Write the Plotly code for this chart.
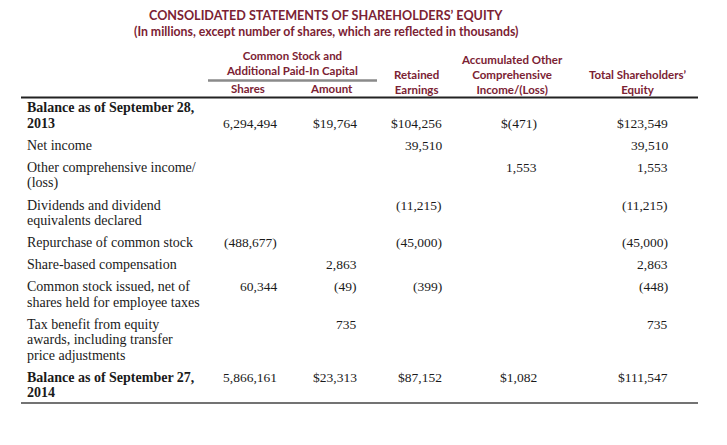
import plotly.graph_objects as go

W, H = 727, 445

title = "CONSOLIDATED STATEMENTS OF SHAREHOLDERS’ EQUITY"
subtitle = "(In millions, except number of shares, which are reflected in thousands)"

group_header = ["Common Stock and", "Additional Paid-In Capital"]
col_headers = [["Shares"], ["Amount"], ["Retained", "Earnings"],
               ["Accumulated Other", "Comprehensive", "Income/(Loss)"],
               ["Total Shareholders’", "Equity"]]

row_labels = [
    ["Balance as of September 28,", "2013"],
    ["Net income"],
    ["Other comprehensive income/", "(loss)"],
    ["Dividends and dividend", "equivalents declared"],
    ["Repurchase of common stock"],
    ["Share-based compensation"],
    ["Common stock issued, net of", "shares held for employee taxes"],
    ["Tax benefit from equity", "awards, including transfer", "price adjustments"],
    ["Balance as of September 27,", "2014"],
]
balance_rows = [True, False, False, False, False, False, False, False, True]
value_line = [1, 0, 0, 0, 0, 0, 0, 0, 0]

shares = [6294494, None, None, None, -488677, None, 60344, None, 5866161]
amount = [19764, None, None, None, None, 2863, -49, 735, 23313]
retained = [104256, 39510, None, -11215, -45000, None, -399, None, 87152]
aoci = [-471, None, 1553, None, None, None, None, None, 1082]
total = [123549, 39510, 1553, -11215, -45000, 2863, -448, 735, 111547]

# ---------- layout constants ----------
MAROON = "#7b2233"
HEAD_FONT = "Lato, sans-serif"
BODY_FONT = "Liberation Serif, Times New Roman, serif"
col_right = [279, 359, 444, 539, 670]
col_center = [248, 331, 416, 512, 637]
label_x = 25
first_y = 108
line_h = 15.5
row_gap = 22


def px(x):
    return x / W


def py(y):
    return 1 - y / H


def fmt(v, dollar, is_shares):
    if v is None:
        return ""
    s = f"{abs(v):,}"
    if v < 0:
        s = f"({s})"
    if dollar and not is_shares:
        s = "$" + s
    return s


ann = []
shapes = []


def add_text(x, y, text, size, font, color, bold=False, anchor="left"):
    if bold:
        text = f"<b>{text}</b>"
    ann.append(dict(x=px(x), y=py(y), xref="paper", yref="paper", text=text,
                    showarrow=False, xanchor=anchor, yanchor="middle", align="center",
                    font=dict(size=size, family=font, color=color)))


def hline(x0, x1, y, color, width):
    shapes.append(dict(type="line", xref="paper", yref="paper", x0=px(x0), x1=px(x1),
                       y0=py(y), y1=py(y), line=dict(color=color, width=width)))


HS = 11.5
HLS = HS * 1.3  # plotly line spacing for <br>
# title
add_text(326, 16, title, 12.6, HEAD_FONT, MAROON, bold=True, anchor="center")
add_text(326, 31, subtitle, 12.3, HEAD_FONT, MAROON, bold=True, anchor="center")

# headers
head_bottom = 89
add_text(292, 70.5 - HLS / 2, "<br>".join(group_header), HS, HEAD_FONT, MAROON,
         bold=True, anchor="center")
hline(208, 377, 80.5, "#8a8a8a", 2.5)
for c, lines in enumerate(col_headers):
    n = len(lines)
    yc = head_bottom - (n - 1) * HLS / 2
    add_text(col_center[c], yc, "<br>".join(lines), HS, HEAD_FONT, MAROON,
             bold=True, anchor="center")
hline(21, 698, 97.5, "#222222", 2)

# body
columns = [shares, amount, retained, aoci, total]
y = first_y
for r, lines in enumerate(row_labels):
    bold = balance_rows[r]
    for i, line in enumerate(lines):
        add_text(label_x, y + i * line_h, line, 14, BODY_FONT, "#1a1a1a", bold=bold)
    vy = y + value_line[r] * line_h
    for c, col in enumerate(columns):
        s = fmt(col[r], balance_rows[r], c == 0)
        if s:
            add_text(col_right[c], vy, s, 13.5, BODY_FONT, "#1a1a1a", anchor="right")
    y += (len(lines) - 1) * line_h + row_gap

hline(21, 698, 403, "#444444", 1.5)

fig = go.Figure()
fig.update_layout(width=W, height=H, margin=dict(l=0, r=0, t=0, b=0),
                  paper_bgcolor="white", plot_bgcolor="white",
                  xaxis=dict(visible=False), yaxis=dict(visible=False),
                  annotations=ann, shapes=shapes, showlegend=False)
fig.write_html("out.html", config={"displayModeBar": False},
               post_script="document.body.style.margin='0';")
